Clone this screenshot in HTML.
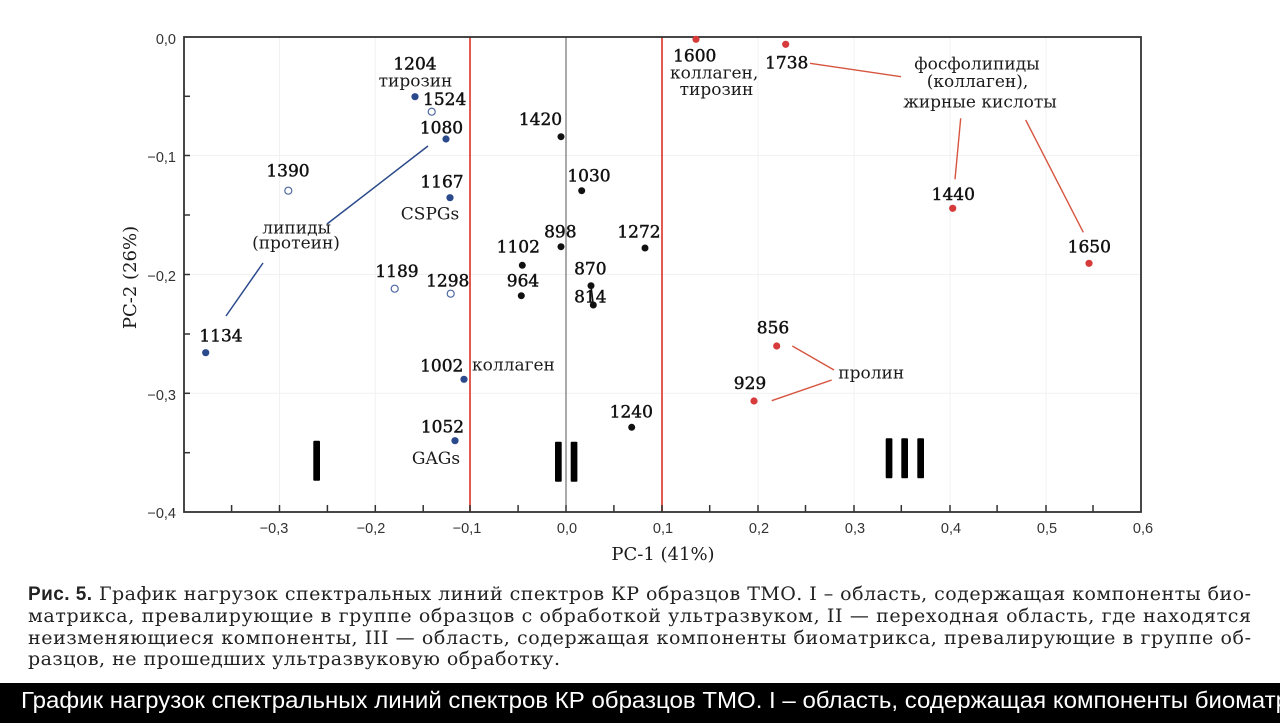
<!DOCTYPE html>
<html>
<head>
<meta charset="utf-8">
<style>
html,body{margin:0;padding:0;background:#fff;}
body{width:1280px;height:723px;overflow:hidden;position:relative;}
svg{display:block;}
.lbl{font-family:"DejaVu Serif","Liberation Serif",serif;font-size:17px;fill:#1a1a1a;}
.num{font-family:"DejaVu Serif","Liberation Serif",serif;font-size:17px;fill:#111;stroke:#111;stroke-width:0.45px;}
.tick{font-family:"Liberation Sans",Arial,sans-serif;font-size:14.5px;fill:#333;}
.cap{font-family:"DejaVu Serif","Liberation Serif",serif;font-size:19px;fill:#222;}
</style>
</head>
<body>
<svg width="1280" height="723" viewBox="0 0 1280 723" xmlns="http://www.w3.org/2000/svg">
  <rect x="0" y="0" width="1280" height="723" fill="#fff"/>

  <!-- faint gridlines -->
  <g stroke="#f1f1f1" stroke-width="1">
    <line x1="279.5" y1="37" x2="279.5" y2="512"/>
    <line x1="375.3" y1="37" x2="375.3" y2="512"/>
    <line x1="758" y1="37" x2="758" y2="512"/>
    <line x1="854" y1="37" x2="854" y2="512"/>
    <line x1="950" y1="37" x2="950" y2="512"/>
    <line x1="1046" y1="37" x2="1046" y2="512"/>
    <line x1="184" y1="155.5" x2="1141" y2="155.5"/>
    <line x1="184" y1="274.5" x2="1141" y2="274.5"/>
    <line x1="184" y1="393.3" x2="1141" y2="393.3"/>
  </g>

  <!-- zero line and red boundaries -->
  <line x1="566" y1="37" x2="566" y2="512" stroke="#555" stroke-width="1"/>
  <line x1="470" y1="37" x2="470" y2="512" stroke="#e0483d" stroke-width="1.8"/>
  <line x1="662" y1="37" x2="662" y2="512" stroke="#e0483d" stroke-width="1.8"/>

  <!-- frame -->
  <rect x="184" y="37" width="957" height="475" fill="none" stroke="#333" stroke-width="1.8"/>

  <!-- x ticks (inside, every 0.05) -->
  <g stroke="#333" stroke-width="1.5">
    <line x1="231.6" y1="512" x2="231.6" y2="505"/>
    <line x1="279.5" y1="512" x2="279.5" y2="505"/>
    <line x1="327.4" y1="512" x2="327.4" y2="505"/>
    <line x1="375.3" y1="512" x2="375.3" y2="505"/>
    <line x1="423.2" y1="512" x2="423.2" y2="505"/>
    <line x1="470" y1="512" x2="470" y2="505"/>
    <line x1="518.1" y1="512" x2="518.1" y2="505"/>
    <line x1="566" y1="512" x2="566" y2="505"/>
    <line x1="613.9" y1="512" x2="613.9" y2="505"/>
    <line x1="662" y1="512" x2="662" y2="505"/>
    <line x1="709.7" y1="512" x2="709.7" y2="505"/>
    <line x1="758" y1="512" x2="758" y2="505"/>
    <line x1="805.5" y1="512" x2="805.5" y2="505"/>
    <line x1="854" y1="512" x2="854" y2="505"/>
    <line x1="901.3" y1="512" x2="901.3" y2="505"/>
    <line x1="950" y1="512" x2="950" y2="505"/>
    <line x1="997.1" y1="512" x2="997.1" y2="505"/>
    <line x1="1046" y1="512" x2="1046" y2="505"/>
    <line x1="1093" y1="512" x2="1093" y2="505"/>
  </g>
  <!-- y ticks (inside) -->
  <g stroke="#333" stroke-width="1.5">
    <line x1="184" y1="96.3" x2="190" y2="96.3"/>
    <line x1="184" y1="155.5" x2="190" y2="155.5"/>
    <line x1="184" y1="215" x2="190" y2="215"/>
    <line x1="184" y1="274.5" x2="190" y2="274.5"/>
    <line x1="184" y1="334" x2="190" y2="334"/>
    <line x1="184" y1="393.3" x2="190" y2="393.3"/>
    <line x1="184" y1="452.7" x2="190" y2="452.7"/>
  </g>

  <!-- y tick labels -->
  <g class="tick" text-anchor="end">
    <text x="176" y="44">0,0</text>
    <text x="176" y="162">−0,1</text>
    <text x="176" y="281">−0,2</text>
    <text x="176" y="400">−0,3</text>
    <text x="176" y="518">−0,4</text>
  </g>
  <!-- x tick labels -->
  <g class="tick" text-anchor="middle">
    <text x="274" y="533">−0,3</text>
    <text x="371" y="533">−0,2</text>
    <text x="467" y="533">−0,1</text>
    <text x="567" y="533">0,0</text>
    <text x="663" y="533">0,1</text>
    <text x="759" y="533">0,2</text>
    <text x="855" y="533">0,3</text>
    <text x="951" y="533">0,4</text>
    <text x="1047" y="533">0,5</text>
    <text x="1143" y="533">0,6</text>
  </g>

  <!-- axis titles -->
  <text class="lbl" x="663" y="560" text-anchor="middle" style="font-size:18px">PC-1 (41%)</text>
  <text class="lbl" transform="translate(136,277.5) rotate(-90)" text-anchor="middle" style="font-size:18px">PC-2 (26%)</text>

  <!-- connector lines -->
  <g stroke="#2b4a8b" stroke-width="1.5" fill="none">
    <line x1="327" y1="224" x2="428" y2="146"/>
    <line x1="226" y1="316" x2="263" y2="263"/>
  </g>
  <g stroke="#d6553f" stroke-width="1.4" fill="none">
    <line x1="810" y1="63.3" x2="901" y2="76.7"/>
    <line x1="960.7" y1="118.3" x2="955" y2="179.3"/>
    <line x1="1025.7" y1="120" x2="1083.3" y2="232.3"/>
    <line x1="792.3" y1="346" x2="834" y2="370"/>
    <line x1="771.7" y1="400.7" x2="831.7" y2="380"/>
  </g>
  <line x1="591" y1="285.7" x2="593.3" y2="305" stroke="#111" stroke-width="1.5"/>

  <!-- blue filled points -->
  <g fill="#2b4a8b">
    <circle cx="415" cy="96.7" r="3.6"/>
    <circle cx="446" cy="139" r="3.6"/>
    <circle cx="450" cy="197.7" r="3.6"/>
    <circle cx="205.7" cy="352.7" r="3.6"/>
    <circle cx="464" cy="379.3" r="3.6"/>
    <circle cx="455" cy="440.7" r="3.6"/>
  </g>
  <!-- blue hollow points -->
  <g fill="#fff" stroke="#5068a3" stroke-width="1.2">
    <circle cx="431.7" cy="111.7" r="3.5"/>
    <circle cx="288.3" cy="190.7" r="3.5"/>
    <circle cx="394.7" cy="288.7" r="3.5"/>
    <circle cx="450.7" cy="293.7" r="3.5"/>
  </g>
  <!-- black points -->
  <g fill="#111">
    <circle cx="561" cy="136.7" r="3.5"/>
    <circle cx="581.7" cy="190.7" r="3.5"/>
    <circle cx="561" cy="246.7" r="3.5"/>
    <circle cx="645" cy="248" r="3.5"/>
    <circle cx="522.3" cy="265.3" r="3.5"/>
    <circle cx="521.3" cy="295.7" r="3.5"/>
    <circle cx="591" cy="285.7" r="3.5"/>
    <circle cx="593.3" cy="305" r="3.5"/>
    <circle cx="631.7" cy="427.3" r="3.5"/>
  </g>
  <!-- red points -->
  <g fill="#d63a3a">
    <circle cx="696" cy="39.3" r="3.6"/>
    <circle cx="785.7" cy="44.3" r="3.6"/>
    <circle cx="952.7" cy="208.3" r="3.6"/>
    <circle cx="1089" cy="263.3" r="3.6"/>
    <circle cx="776.7" cy="346" r="3.6"/>
    <circle cx="754" cy="401" r="3.6"/>
  </g>

  <!-- roman numerals -->
  <g fill="#000">
    <rect x="313.3" y="440.7" width="6.7" height="40" rx="1"/>
    <rect x="555" y="441.7" width="6.7" height="40" rx="1"/>
    <rect x="570.7" y="441.7" width="6.7" height="40" rx="1"/>
    <rect x="885.7" y="438.3" width="6.7" height="40" rx="1"/>
    <rect x="901.3" y="438.3" width="6.7" height="40" rx="1"/>
    <rect x="917.3" y="438.3" width="6.7" height="40" rx="1"/>
  </g>

  <!-- number labels -->
  <g class="num" text-anchor="middle">
    <text x="415" y="69.3">1204</text>
    <text x="441.5" y="133.3">1080</text>
    <text x="288" y="176.7">1390</text>
    <text x="442" y="187.3">1167</text>
    <text x="397" y="277">1189</text>
    <text x="447.7" y="286.7">1298</text>
    <text x="221" y="341.7">1134</text>
    <text x="441.7" y="371.7">1002</text>
    <text x="442.5" y="432.3">1052</text>
    <text x="694.7" y="61.7">1600</text>
    <text x="786.7" y="68.3">1738</text>
    <text x="540.5" y="125">1420</text>
    <text x="589" y="181.7">1030</text>
    <text x="560.3" y="237.3">898</text>
    <text x="639" y="237.3">1272</text>
    <text x="518.3" y="252.3">1102</text>
    <text x="590.3" y="274.3">870</text>
    <text x="523" y="286.7">964</text>
    <text x="590.3" y="302.7">814</text>
    <text x="953.3" y="200">1440</text>
    <text x="1089.3" y="252.3">1650</text>
    <text x="773" y="333.3">856</text>
    <text x="750" y="389">929</text>
    <text x="631.3" y="417.3">1240</text>
  </g>
  <g class="num" text-anchor="start">
    <text x="423" y="105">1524</text>
  </g>

  <!-- word labels -->
  <g class="lbl" text-anchor="middle">
    <text x="415.5" y="86.7">тирозин</text>
    <text x="430" y="219.3">CSPGs</text>
    <text x="296.7" y="233.3">липиды</text>
    <text x="296" y="248.7">(протеин)</text>
    <text x="436" y="464">GAGs</text>
    <text x="716.5" y="95">тирозин</text>
    <text x="977" y="69.3">фосфолипиды</text>
    <text x="977.5" y="87">(коллаген),</text>
    <text x="980" y="107.3">жирные кислоты</text>
  </g>
  <g class="lbl" text-anchor="start">
    <text x="472" y="370.5">коллаген</text>
    <text x="670" y="78.3">коллаген,</text>
    <text x="838.3" y="378.3">пролин</text>
  </g>

  <!-- caption -->
  <text class="cap" x="28" y="600" textLength="1223" lengthAdjust="spacing"><tspan style="font-family:'Liberation Sans',Arial,sans-serif;font-weight:bold">Рис. 5.</tspan> График нагрузок спектральных линий спектров КР образцов ТМО. I – область, содержащая компоненты био-</text>
  <text class="cap" x="28" y="622" textLength="1223" lengthAdjust="spacing">матрикса, превалирующие в группе образцов с обработкой ультразвуком, II — переходная область, где находятся</text>
  <text class="cap" x="28" y="644" textLength="1223" lengthAdjust="spacing">неизменяющиеся компоненты, III — область, содержащая компоненты биоматрикса, превалирующие в группе об-</text>
  <text class="cap" x="28" y="665" textLength="532" lengthAdjust="spacing">разцов, не прошедших ультразвуковую обработку.</text>

  <!-- bottom black bar -->
  <rect x="0" y="683" width="1280" height="40" fill="#000"/>
  <text x="21" y="708" fill="#fff" style="font-family:'Liberation Sans',Arial,sans-serif;font-size:23px" textLength="1268" lengthAdjust="spacingAndGlyphs">График нагрузок спектральных линий спектров КР образцов ТМО. I – область, содержащая компоненты биоматр</text>
</svg>
</body>
</html>
